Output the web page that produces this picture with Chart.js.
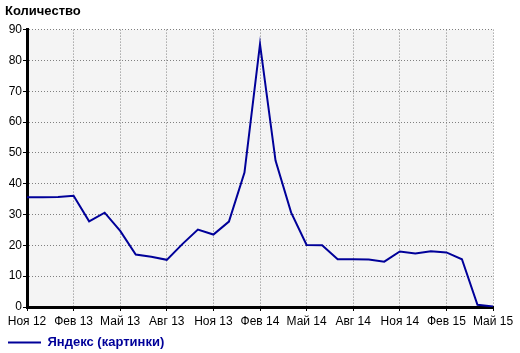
<!DOCTYPE html>
<html>
<head>
<meta charset="utf-8">
<script src="https://cdn.jsdelivr.net/npm/chart.js@4/dist/chart.umd.min.js"></script>
<style>
  html, body { margin: 0; padding: 0; background: #fff; overflow: hidden; }
  #wrap { width: 520px; height: 353px; overflow: hidden; }
</style>
</head>
<body>
<div id="wrap"><canvas id="chart" width="520" height="359"></canvas></div>
<script>
const months = [
    'Ноя 12', 'Дек 12', 'Янв 13', 'Фев 13', 'Мар 13', 'Апр 13', 'Май 13', 'Июн 13', 'Июл 13', 'Авг 13',
    'Сен 13', 'Окт 13', 'Ноя 13', 'Дек 13', 'Янв 14', 'Фев 14', 'Мар 14', 'Апр 14', 'Май 14', 'Июн 14',
    'Июл 14', 'Авг 14', 'Сен 14', 'Окт 14', 'Ноя 14', 'Дек 14', 'Янв 15', 'Фев 15', 'Мар 15', 'Апр 15',
    'Май 15'
];
const yandexImages = [
    35.6, 35.6, 35.7, 36.1, 27.8, 30.6, 24.7, 17.0, 16.3, 15.3,
    20.4, 25.1, 23.5, 27.7, 43.6, 85.3, 47.5, 30.7, 20.1, 20.0,
    15.5, 15.5, 15.4, 14.7, 18.0, 17.4, 18.1, 17.7, 15.5, 0.7,
    0.2
];
const seriesName = 'Яндекс (картинки)';
const axisTitle = 'Количество';
const labelEvery = 3;

const plotBackground = {
    id: 'plotBackground',
    beforeDraw(chart) {
        const { ctx, chartArea } = chart;
        ctx.save();
        ctx.fillStyle = '#f4f4f4';
        ctx.fillRect(chartArea.left, chartArea.top, chartArea.right - chartArea.left, chartArea.bottom - chartArea.top);
        ctx.restore();
    }
};

Chart.defaults.font.family = "'Liberation Sans', Arial, sans-serif";
Chart.defaults.font.size = 12;
Chart.defaults.color = '#000';

new Chart(document.getElementById('chart'), {
    type: 'line',
    data: {
        labels: months,
        datasets: [{
            label: seriesName,
            data: yandexImages,
            borderColor: '#000099',
            backgroundColor: '#000099',
            borderWidth: 2,
            pointRadius: 0,
            tension: 0,
            pointStyle: 'line'
        }]
    },
    options: {
        responsive: false,
        animation: false,
        layout: { padding: { left: 5, right: 27, top: 0, bottom: 0 } },
        plugins: {
            tooltip: { enabled: false },
            title: {
                display: true,
                text: axisTitle,
                align: 'start',
                color: '#000',
                font: { size: 13, weight: 'bold' },
                padding: { top: 4, bottom: 10 }
            },
            legend: {
                position: 'bottom',
                align: 'start',
                labels: {
                    usePointStyle: true,
                    pointStyleWidth: 33,
                    padding: 3,
                    color: '#000099',
                    font: { size: 13, weight: 'bold' }
                }
            }
        },
        scales: {
            x: {
                offset: false,
                afterFit(scale) { scale.height = 26; },
                border: { display: true, color: '#000', width: 3, dash: [1, 2] },
                grid: {
                    color: '#808080',
                    tickColor: '#000',
                    tickLength: 4,
                    tickBorderDash: []
                },
                ticks: {
                    autoSkip: false,
                    maxRotation: 0,
                    padding: 3,
                    callback(value, index) {
                        return index % labelEvery === 0 ? months[index] : null;
                    }
                }
            },
            y: {
                min: 0,
                max: 90,
                afterFit(scale) { scale.width = 22; },
                border: { display: true, color: '#000', width: 3, dash: [1, 2] },
                grid: {
                    color: '#808080',
                    tickColor: '#000',
                    tickLength: 4,
                    tickBorderDash: []
                },
                ticks: { stepSize: 10, padding: 1 }
            }
        }
    },
    plugins: [plotBackground]
});
</script>
</body>
</html>
